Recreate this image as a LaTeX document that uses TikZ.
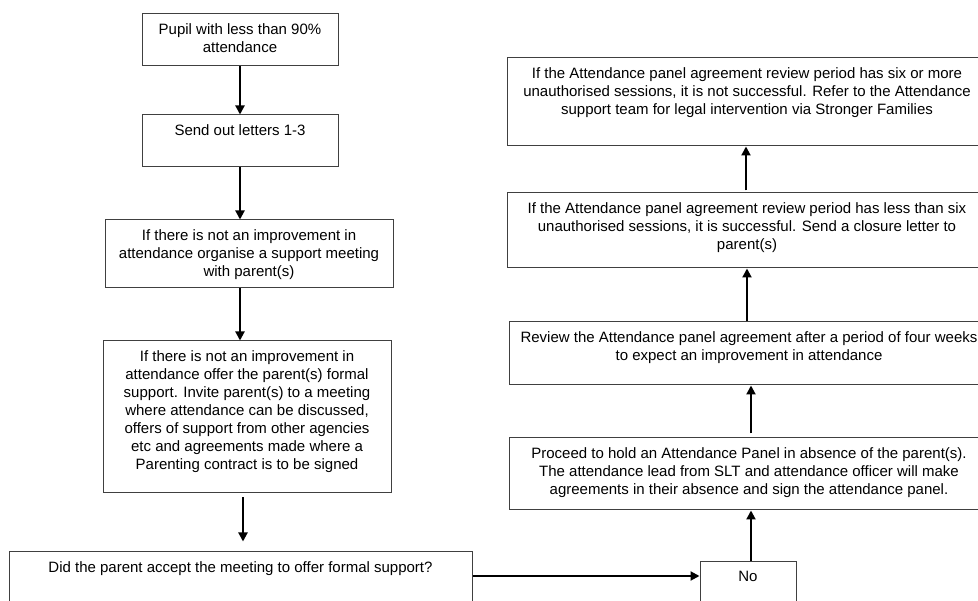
\documentclass[tikz,border=0pt]{standalone}
\usepackage{fontspec}
\setmainfont{Liberation Sans}
\usetikzlibrary{arrows.meta}
\begin{document}
\begin{tikzpicture}[x=1pt,y=-1pt,
  box/.style={draw=black!75,line width=1pt,inner sep=0pt,fill=white},
  txt/.style={anchor=north,inner sep=0pt,align=center,font=\fontsize{15}{18}\selectfont,text=black},
  arr/.style={line width=2pt,-{Triangle[length=9pt,width=9pt]}}]
\useasboundingbox (0,0) rectangle (978,601);
\clip (0,0) rectangle (978,601);
% boxes
\node[box,minimum width=196pt,minimum height=52pt] (b1) at (240,40) {};
\node[box,minimum width=196pt,minimum height=52pt] (b2) at (240,141) {};
\node[box,minimum width=288pt,minimum height=68pt] (b3) at (249,254) {};
\node[box,minimum width=288pt,minimum height=152pt] (b4) at (247,417) {};
\node[box,minimum width=463pt,minimum height=68pt] (b5) at (240.5,586) {};
\node[box,minimum width=96pt,minimum height=59pt] (no) at (748,590.5) {};
\node[box,minimum width=480pt,minimum height=72pt] (p) at (749,474) {};
\node[box,minimum width=480pt,minimum height=63pt] (r) at (749,353.5) {};
\node[box,minimum width=480pt,minimum height=75pt] (s) at (747,230.5) {};
\node[box,minimum width=480pt,minimum height=88pt] (f) at (747,102) {};
% texts
\node[txt] (t1) at ([yshift=-10pt]b1.north) {Pupil with less than 90\%\\attendance};
\node[txt] (t2) at ([yshift=-10pt]b2.north) {Send out letters 1-3};
\node[txt] (t3) at ([yshift=-10pt]b3.north) {If there is not an improvement in\\attendance organise a support meeting\\with parent(s)};
\node[txt] (t4) at ([yshift=-10pt]b4.north) {If there is not an improvement in\\attendance offer the parent(s) formal\\support. Invite parent(s) to a meeting\\where attendance can be discussed,\\offers of support from other agencies\\etc and agreements made where a\\Parenting contract is to be signed};
\node[txt] (t5) at ([yshift=-10pt]b5.north) {Did the parent accept the meeting to offer formal support?};
\node[txt] (tno) at ([yshift=-10pt]no.north) {No};
\node[txt] (tp) at ([yshift=-10pt]p.north) {Proceed to hold an Attendance Panel in absence of the parent(s).\\The attendance lead from SLT and attendance officer will make\\agreements in their absence and sign the attendance panel.};
\node[txt] (tr) at ([yshift=-10pt]r.north) {Review the Attendance panel agreement after a period of four weeks\\to expect an improvement in attendance};
\node[txt] (ts) at ([yshift=-10pt]s.north) {If the Attendance panel agreement review period has less than six\\unauthorised sessions, it is successful. Send a closure letter to\\parent(s)};
\node[txt] (tf) at ([yshift=-10pt]f.north) {If the Attendance panel agreement review period has six or more\\unauthorised sessions, it is not successful. Refer to the Attendance\\support team for legal intervention via Stronger Families};
% connectors
\draw[arr] (b1.south) -- (b2.north);
\draw[arr] (b2.south) -- (b2.south |- b3.north);
\draw[arr] (b3.south -| b2.south) -- (b4.north -| b2.south);
\draw[arr,shorten <=4pt,shorten >=10pt] ([xshift=-4pt]b4.south) -- ([xshift=-4pt]b4.south |- b5.north);
\draw[arr] ([yshift=10pt]b5.east) -- ([yshift=10pt]b5.east -| no.west);
\draw[arr] ([xshift=3pt]no.north) -- ([xshift=3pt]no.north |- p.south);
\draw[arr,shorten <=4pt] ([xshift=2pt]p.north) -- ([xshift=2pt]p.north |- r.south);
\draw[arr] (r.north -| s.south) -- (s.south);
\draw[arr,shorten <=2pt] ([xshift=-1pt]s.north) -- ([xshift=-1pt]s.north |- f.south);
\end{tikzpicture}
\end{document}
